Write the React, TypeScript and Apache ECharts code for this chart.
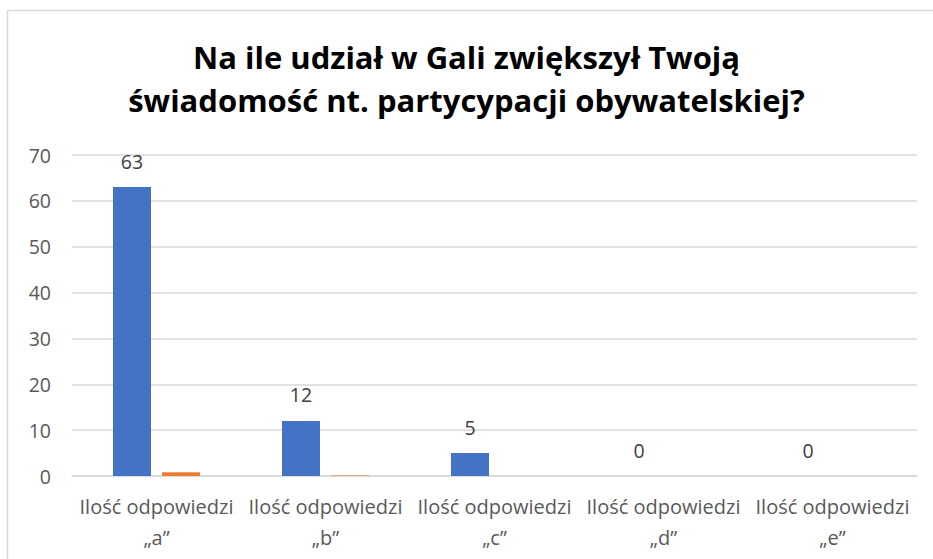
import React, { useEffect, useRef } from "react";
import * as echarts from "echarts";

const titleLines = ["Na ile udział w Gali zwiększył Twoją", "świadomość nt. partycypacji obywatelskiej?"];
const categories = [
  "Ilość odpowiedzi\n„a”",
  "Ilość odpowiedzi\n„b”",
  "Ilość odpowiedzi\n„c”",
  "Ilość odpowiedzi\n„d”",
  "Ilość odpowiedzi\n„e”",
];
const seriesBlue = [63, 12, 5, 0, 0];
const seriesOrange = [0.8, 0.1, 0, 0, 0];
const yTicks = { min: 0, max: 70, interval: 10 };

export default function App() {
  const ref = useRef<HTMLDivElement>(null);
  useEffect(() => {
    if (!ref.current) return;
    const chart = echarts.init(ref.current, undefined, { renderer: "svg" });
    const font = "'Open Sans', 'Noto Sans', sans-serif";
    chart.setOption({
      animation: false,
      backgroundColor: "#ffffff",
      textStyle: { fontFamily: font },
      title: {
        text: titleLines.join("\n"),
        left: "center",
        top: 30,
        textStyle: {
          fontFamily: font,
          fontSize: 31,
          fontWeight: "bold",
          lineHeight: 43,
          color: "#000000",
        },
      },
      graphic: [
        {
          type: "rect",
          shape: { x: 7.5, y: 10.5, width: 940, height: 560 },
          style: { fill: "none", stroke: "#D9D9D9", lineWidth: 1.5 },
          silent: true,
        },
      ],
      grid: { left: 72, right: 16, top: 155, bottom: 83, containLabel: false },
      xAxis: {
        type: "category",
        data: categories,
        axisLine: { show: true, lineStyle: { color: "#D9D9D9", width: 1.5 } },
        axisTick: { show: false },
        axisLabel: {
          interval: 0,
          fontSize: 20,
          lineHeight: 31,
          color: "#595959",
          margin: 15,
          fontFamily: font,
        },
      },
      yAxis: {
        type: "value",
        min: yTicks.min,
        max: yTicks.max,
        interval: yTicks.interval,
        axisLine: { show: false },
        axisTick: { show: false },
        splitLine: { lineStyle: { color: "#D9D9D9", width: 1.5 } },
        axisLabel: { fontSize: 19.5, color: "#595959", margin: 21, fontFamily: font },
      },
      series: [
        {
          type: "bar",
          data: seriesBlue,
          barWidth: 38,
          barGap: "29%",
          itemStyle: { color: "#4472C4" },
          label: {
            show: true,
            position: "top",
            distance: 16,
            fontSize: 19.5,
            color: "#404040",
            fontFamily: font,
          },
        },
        {
          type: "bar",
          data: seriesOrange,
          barWidth: 38,
          itemStyle: { color: "#ED7D31" },
        },
      ],
    });
    return () => chart.dispose();
  }, []);
  return <div ref={ref} style={{ position: "fixed", left: 0, top: 0, width: 933, height: 559 }} />;
}
